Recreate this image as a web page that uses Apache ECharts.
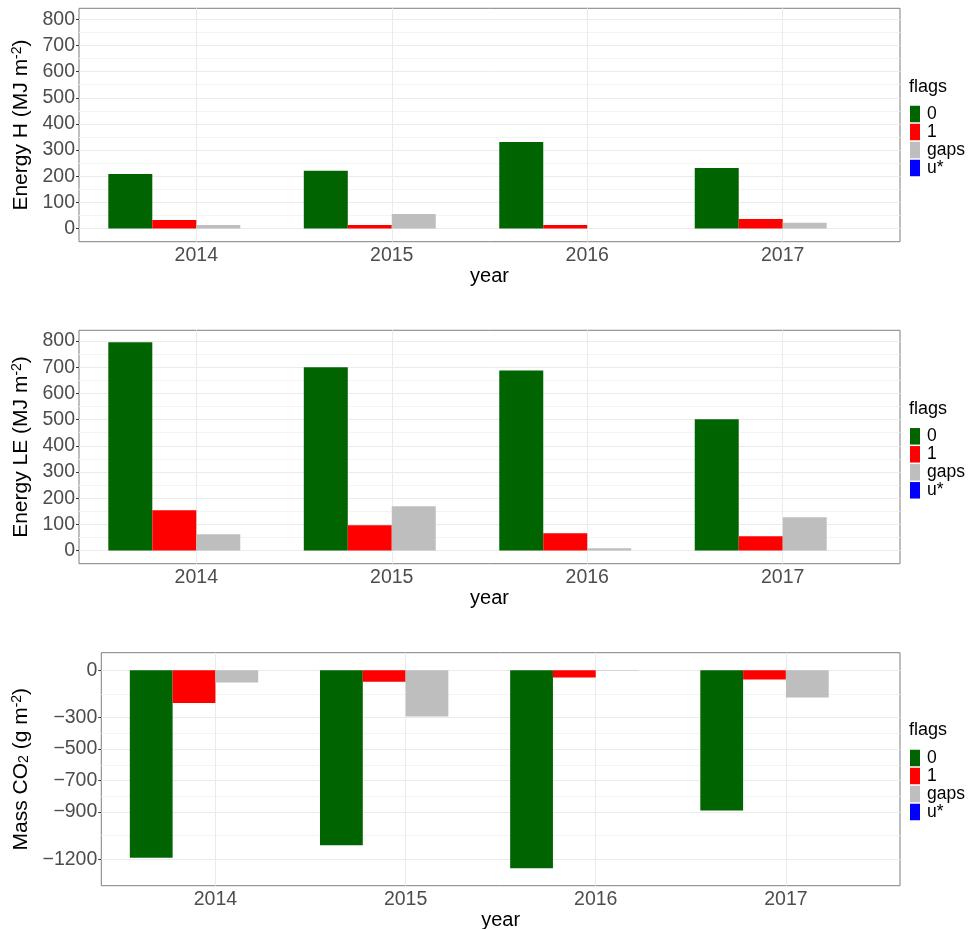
<!DOCTYPE html>
<html>
<head>
<meta charset="utf-8">
<script src="https://cdn.jsdelivr.net/npm/echarts@6/dist/echarts.min.js"></script>
<style>
  html, body { margin: 0; padding: 0; background: #fff; }
  #chart { width: 972px; height: 929px; }
</style>
</head>
<body>
<div id="chart"></div>
<script>
var years = [2014, 2015, 2016, 2017];
var flags = ['0', '1', 'gaps', 'u*'];
var flagColors = ['#006400', '#ff0000', '#bebebe', '#0000ff'];

// Energy H (MJ m-2)
var h0 = [209, 221, 331, 232];
var h1 = [33, 14, 14, 37];
var hGaps = [14, 56, 0, 22];
var hUstar = [0, 0, 0, 0];

// Energy LE (MJ m-2)
var le0 = [795, 700, 688, 501];
var le1 = [154, 97, 66, 55];
var leGaps = [62, 169, 9, 127];
var leUstar = [0, 0, 0, 0];

// Mass CO2 (g m-2)
var co0 = [-1191, -1111, -1257, -890];
var co1 = [-207, -72, -46, -59];
var coGaps = [-78, -294, -2, -173];
var coUstar = [0, 0, 0, 0];

// tick labels
var energyTicks = [0, 100, 200, 300, 400, 500, 600, 700, 800];
var co2Ticks = [0, -300, -500, -700, -900, -1200];

var FONT = '"Liberation Sans", Arial, sans-serif';

var panels = [
    {
        values: [h0, h1, hGaps, hUstar], ticks: energyTicks,
        top: 8.3, height: 233.4, left: 79, yMin: -50, yMax: 842, nameGap: 40,
        yName: '{t|Energy H (MJ m}{s|-2}{t|)}', flagsTop: 78, legendTop: 105
    },
    {
        values: [le0, le1, leGaps, leUstar], ticks: energyTicks,
        top: 330.3, height: 233.4, left: 79, yMin: -50, yMax: 841, nameGap: 40,
        yName: '{t|Energy LE (MJ m}{s|-2}{t|)}', flagsTop: 400, legendTop: 427.3
    },
    {
        values: [co0, co1, coGaps, coUstar], ticks: co2Ticks,
        top: 652.7, height: 233, left: 101.3, yMin: -1368, yMax: 112, nameGap: 62,
        yName: '{t|Mass CO}{b|2}{t| (g m}{s|-2}{t|)}', flagsTop: 721, legendTop: 749
    }
];

// midpoints between neighbouring ticks (ggplot minor grid)
function minorOf(ticks) {
    var sorted = ticks.slice().sort(function (a, b) { return a - b; });
    var out = [];
    for (var i = 0; i < sorted.length - 1; i++) {
        out.push((sorted[i] + sorted[i + 1]) / 2);
    }
    return out;
}

function fmtNum(v) {
    return v < 0 ? '\u2212' + Math.abs(v) : String(v);
}

var grids = [], xAxes = [], yAxes = [], series = [], legends = [], titles = [];

panels.forEach(function (p, i) {
    grids.push({
        left: p.left, right: 72, top: p.top, height: p.height,
        show: true, borderColor: '#7f7f7f', borderWidth: 1,
        backgroundColor: 'transparent', outerBoundsMode: 'none'
    });

    xAxes.push({
        type: 'value', gridIndex: i, min: 2013.4, max: 2017.6,
        axisLine: {show: false},
        axisTick: {show: true, customValues: years, length: 3, lineStyle: {color: '#333'}},
        axisLabel: {
            customValues: years, color: '#4d4d4d', fontSize: 19.5, margin: 4, fontFamily: FONT,
            formatter: function (v) { return String(v); }
        },
        splitLine: {show: false},
        name: 'year', nameLocation: 'middle', nameGap: 22,
        nameTextStyle: {color: '#000', fontSize: 20, fontFamily: FONT}
    });

    yAxes.push({
        type: 'value', gridIndex: i, min: p.yMin, max: p.yMax,
        axisLine: {show: false},
        axisTick: {show: true, customValues: p.ticks, length: 3, lineStyle: {color: '#333'}},
        axisLabel: {
            customValues: p.ticks, color: '#4d4d4d', fontSize: 19.5, margin: 4, fontFamily: FONT,
            formatter: fmtNum
        },
        splitLine: {show: false},
        name: p.yName, nameLocation: 'middle', nameGap: p.nameGap,
        nameTextStyle: {
            color: '#000', fontFamily: FONT,
            rich: {
                t: {fontSize: 21, color: '#000', fontFamily: FONT},
                s: {fontSize: 14, color: '#000', fontFamily: FONT, verticalAlign: 'top'},
                b: {fontSize: 14, color: '#000', fontFamily: FONT, verticalAlign: 'bottom'}
            }
        }
    });

    // grid lines
    var lines = [];
    p.ticks.forEach(function (v) { lines.push({yAxis: v}); });
    minorOf(p.ticks).forEach(function (v) {
        lines.push({yAxis: v, lineStyle: {color: '#f3f3f3', width: 1, type: 'solid'}});
    });
    years.forEach(function (y) { lines.push({xAxis: y}); });
    series.push({
        type: 'line', name: 'grid' + i, xAxisIndex: i, yAxisIndex: i, data: [],
        silent: true, z: 1,
        markLine: {
            silent: true, symbol: 'none', z: 1, animation: false,
            label: {show: false},
            lineStyle: {color: '#ebebeb', width: 1, type: 'solid'},
            emphasis: {disabled: true},
            data: lines
        }
    });

    flags.forEach(function (f, j) {
        series.push({
            type: 'bar', name: f, xAxisIndex: i, yAxisIndex: i,
            barWidth: '22.5%', barGap: '0%', z: 2,
            itemStyle: {color: flagColors[j]},
            data: years.map(function (y, k) { return [y, p.values[j][k]]; })
        });
    });

    titles.push({
        text: 'flags', left: 909, top: p.flagsTop, padding: 0,
        textStyle: {fontSize: 18, fontWeight: 'normal', color: '#000', fontFamily: FONT}
    });
    legends.push({
        data: flags, orient: 'vertical', left: 910, top: p.legendTop,
        itemWidth: 10, itemHeight: 16.5, itemGap: 0, icon: 'rect', padding: 0,
        selectedMode: false,
        textStyle: {fontSize: 17.5, color: '#000', fontFamily: FONT, padding: [0, 0, 0, 2]}
    });
});

var myChart = echarts.init(document.getElementById('chart'), null, {renderer: 'canvas'});
myChart.setOption({
    animation: false,
    backgroundColor: '#fff',
    textStyle: {fontFamily: FONT},
    title: titles,
    legend: legends,
    grid: grids,
    xAxis: xAxes,
    yAxis: yAxes,
    series: series
});
</script>
</body>
</html>
